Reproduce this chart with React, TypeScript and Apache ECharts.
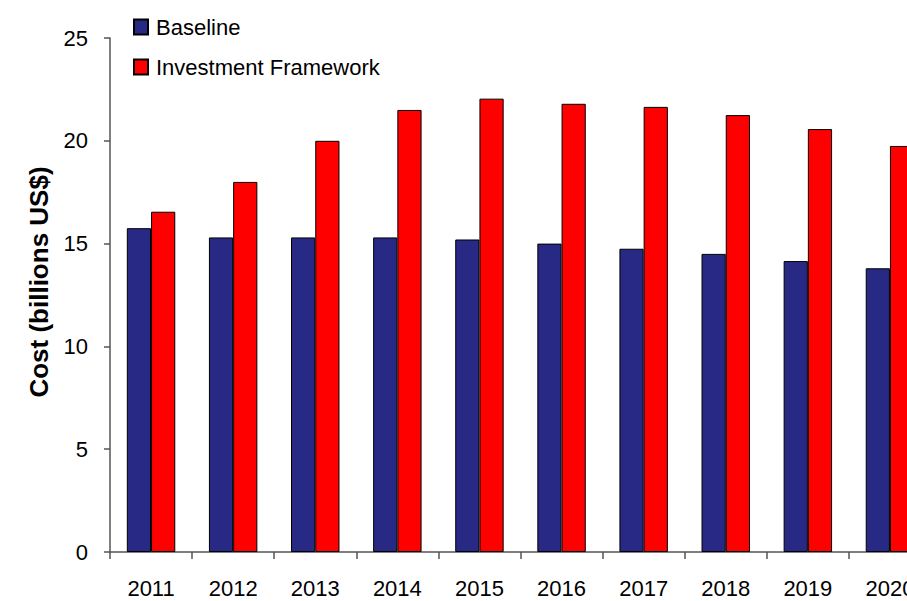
import React, { useEffect, useRef } from "react";
import * as echarts from "echarts";

const years = ["2011", "2012", "2013", "2014", "2015", "2016", "2017", "2018", "2019", "2020"];
const baseline = [15.75, 15.3, 15.3, 15.3, 15.2, 15.0, 14.75, 14.5, 14.15, 13.8];
const investment = [16.55, 18.0, 20.0, 21.5, 22.05, 21.8, 21.65, 21.25, 20.57, 19.75];
const yTicks = { min: 0, max: 25, interval: 5 };

export default function App() {
  const ref = useRef<HTMLDivElement>(null);
  useEffect(() => {
    if (!ref.current) return;
    const chart = echarts.init(ref.current, undefined, { renderer: "svg" });
    const font = "'Liberation Sans', Arial, sans-serif";
    chart.setOption({
      animation: false,
      backgroundColor: "#ffffff",
      textStyle: { fontFamily: font },
      legend: {
        orient: "vertical",
        left: 128,
        top: 11,
        itemWidth: 14,
        itemHeight: 15,
        itemGap: 18,
        icon: "rect",
        textStyle: { fontSize: 22, color: "#000", fontFamily: font, padding: [0, 0, 0, 3] },
        data: ["Baseline", "Investment Framework"],
      },
      grid: { left: 110, top: 38, bottom: 49, right: 0, containLabel: false },
      xAxis: {
        type: "category",
        data: years,
        boundaryGap: true,
        axisLine: { lineStyle: { color: "#555", width: 1.5 } },
        axisTick: { show: true, length: 7, lineStyle: { color: "#555", width: 1.5 } },
        axisLabel: { fontSize: 22, color: "#000", margin: 25, fontFamily: font },
      },
      yAxis: {
        type: "value",
        min: yTicks.min,
        max: yTicks.max,
        interval: yTicks.interval,
        name: "Cost (billions US$)",
        nameLocation: "middle",
        nameGap: 58,
        nameTextStyle: {
          fontSize: 26,
          fontWeight: "bold",
          color: "#000",
          fontFamily: font,
          padding: [0, 0, 0, 26],
        },
        axisLine: { show: true, lineStyle: { color: "#555", width: 1.5 } },
        axisTick: { show: true, length: 6, lineStyle: { color: "#555", width: 1.5 } },
        axisLabel: { fontSize: 22, color: "#000", margin: 22, fontFamily: font },
        splitLine: { show: false },
      },
      series: [
        {
          name: "Baseline",
          type: "bar",
          data: baseline,
          barGap: "0%",
          barCategoryGap: "41%",
          itemStyle: { color: "#282885", borderColor: "#000", borderWidth: 1 },
        },
        {
          name: "Investment Framework",
          type: "bar",
          data: investment,
          barGap: "0%",
          barCategoryGap: "41%",
          itemStyle: { color: "#ff0000", borderColor: "#000", borderWidth: 1 },
        },
      ],
    });
    return () => chart.dispose();
  }, []);
  return (
    <div style={{ position: "fixed", left: 0, top: 0, width: 907, height: 601, overflow: "hidden" }}>
      <div ref={ref} style={{ width: 931, height: 601 }} />
    </div>
  );
}
